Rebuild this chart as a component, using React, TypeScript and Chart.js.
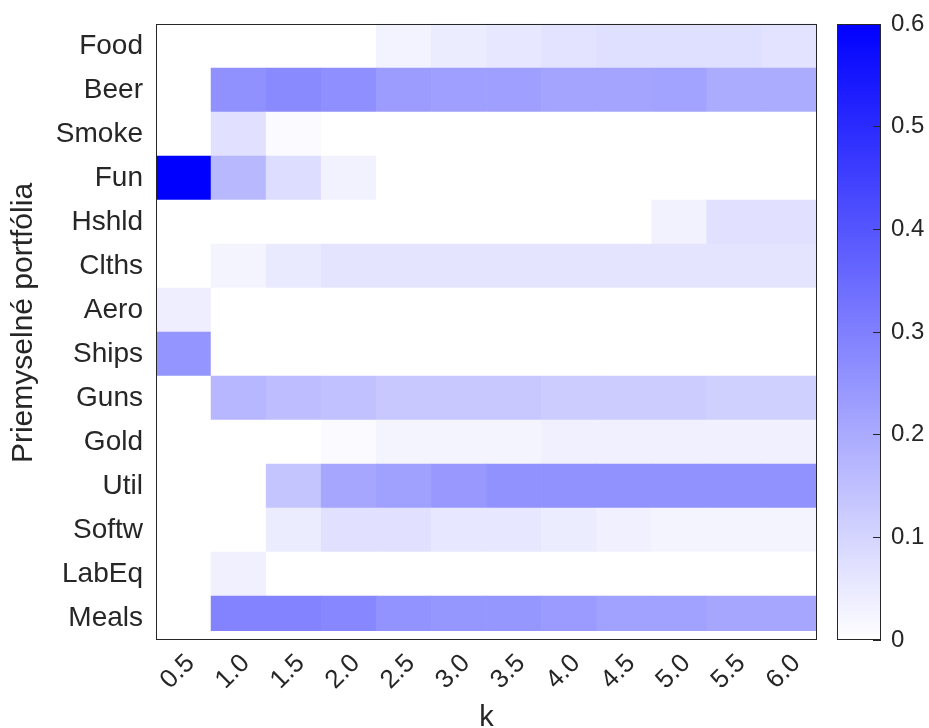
import React, { useEffect, useRef } from "react";
import { Chart, registerables } from "chart.js";

Chart.register(...registerables);

// Column categories (parameter k)
const kLabels = ["0.5", "1.0", "1.5", "2.0", "2.5", "3.0", "3.5", "4.0", "4.5", "5.0", "5.5", "6.0"];

// Row categories, top to bottom
const industries = [
  "Food", "Beer", "Smoke", "Fun", "Hshld", "Clths", "Aero",
  "Ships", "Guns", "Gold", "Util", "Softw", "LabEq", "Meals",
];

// Portfolio weights per industry, one value per k
const food = [0, 0, 0, 0, 0.028, 0.045, 0.056, 0.066, 0.075, 0.075, 0.075, 0.066];
const beer = [0, 0.261, 0.275, 0.264, 0.233, 0.226, 0.226, 0.214, 0.214, 0.219, 0.195, 0.195];
const smoke = [0, 0.07, 0.012, 0, 0, 0, 0, 0, 0, 0, 0, 0];
const fun = [0.6, 0.168, 0.08, 0.03, 0, 0, 0, 0, 0, 0, 0, 0];
const hshld = [0, 0, 0, 0, 0, 0, 0, 0, 0, 0.031, 0.071, 0.071];
const clths = [0, 0.025, 0.05, 0.063, 0.063, 0.063, 0.063, 0.063, 0.063, 0.063, 0.063, 0.063];
const aero = [0.04, 0, 0, 0, 0, 0, 0, 0, 0, 0, 0, 0];
const ships = [0.25, 0, 0, 0, 0, 0, 0, 0, 0, 0, 0, 0];
const guns = [0, 0.17, 0.155, 0.145, 0.13, 0.13, 0.13, 0.12, 0.12, 0.12, 0.11, 0.11];
const gold = [0, 0, 0, 0.01, 0.026, 0.026, 0.026, 0.035, 0.035, 0.035, 0.035, 0.035];
const util = [0, 0, 0.139, 0.209, 0.224, 0.242, 0.256, 0.256, 0.256, 0.256, 0.256, 0.256];
const softw = [0, 0, 0.045, 0.071, 0.071, 0.056, 0.056, 0.045, 0.035, 0.026, 0.026, 0.026];
const labeq = [0, 0.035, 0, 0, 0, 0, 0, 0, 0, 0, 0, 0];
const meals = [0, 0.292, 0.292, 0.282, 0.254, 0.247, 0.247, 0.235, 0.221, 0.221, 0.209, 0.209];

const weights = [food, beer, smoke, fun, hshld, clths, aero, ships, guns, gold, util, softw, labeq, meals];

// Colour scale range and colourbar ticks
const colorMin = 0;
const colorMax = 0.6;
const colorTicks = [0, 0.1, 0.2, 0.3, 0.4, 0.5, 0.6];

const TEXT = "#262626";
const FONT = "'Liberation Sans', Arial, Helvetica, sans-serif";

// White -> blue linear colormap
function cellColor(v: number): string {
  const t = Math.min(1, Math.max(0, (v - colorMin) / (colorMax - colorMin)));
  const c = Math.round(255 * (1 - t));
  return `rgb(${c},${c},255)`;
}

// Box outline around the plotting area
const framePlugin = {
  id: "frame",
  afterDatasetsDraw(chart: any) {
    const { ctx, chartArea: a } = chart;
    ctx.save();
    ctx.strokeStyle = TEXT;
    ctx.lineWidth = 1;
    ctx.strokeRect(Math.round(a.left) + 0.5, Math.round(a.top) + 0.5, Math.round(a.right - a.left) - 1, Math.round(a.bottom - a.top) - 1);
    ctx.restore();
  },
};

// Raise the rotated y-axis title a little above the plot's mid-height
const yTitleLift = {
  id: "yTitleLift",
  afterLayout(chart: any) {
    const y = chart.scales.y;
    if (y) {
      y.top -= 9;
      y.bottom -= 9;
    }
  },
};

// Keep tick labels from reserving extra room at the ends of an axis
function noEdgePadding(scale: any) {
  scale.paddingTop = 0;
  scale.paddingBottom = 0;
  scale.paddingLeft = 0;
  scale.paddingRight = 0;
}

export default function App() {
  const mainRef = useRef<HTMLCanvasElement>(null);
  const barRef = useRef<HTMLCanvasElement>(null);

  useEffect(() => {
    // Each industry is one stacked layer of unit-height cells; stack from the bottom row up.
    const datasets = industries
      .map((name, i) => ({
        label: name,
        data: kLabels.map(() => 1),
        backgroundColor: weights[i].map(cellColor),
        borderWidth: 0,
        categoryPercentage: 1,
        barPercentage: 1,
      }))
      .reverse();

    const main = new Chart(mainRef.current!, {
      type: "bar",
      data: { labels: kLabels, datasets },
      options: {
        responsive: false,
        animation: false,
        events: [],
        layout: { padding: { left: 0, top: 24, right: 112, bottom: 0 } },
        plugins: { legend: { display: false }, tooltip: { enabled: false } },
        scales: {
          x: {
            type: "category",
            stacked: true,
            grid: { display: false, drawTicks: false, tickLength: 0 },
            border: { display: false },
            ticks: {
              autoSkip: false,
              minRotation: 45,
              maxRotation: 45,
              padding: 10,
              labelOffset: 7,
              color: TEXT,
              font: { family: FONT, size: 26, lineHeight: 1 },
            },
            title: {
              display: true,
              text: "k",
              color: TEXT,
              padding: { top: 0, bottom: -4 },
              font: { family: FONT, size: 29, lineHeight: 1 },
            },
            afterFit(scale: any) {
              scale.height = 88;
              noEdgePadding(scale);
            },
          },
          y: {
            type: "linear",
            stacked: true,
            min: 0,
            max: industries.length,
            grid: { display: false, drawTicks: false, tickLength: 0 },
            border: { display: false },
            afterBuildTicks(scale: any) {
              scale.ticks = industries.map((_, i) => ({ value: i + 0.5 }));
            },
            ticks: {
              autoSkip: false,
              padding: 13,
              color: TEXT,
              font: { family: FONT, size: 28 },
              callback: (_v: any, index: number) => industries[industries.length - 1 - index],
            },
            title: {
              display: true,
              text: "Priemyselné portfólia",
              color: TEXT,
              padding: { top: 6, bottom: 0 },
              font: { family: FONT, size: 30 },
            },
            afterFit(scale: any) {
              scale.width = 156;
              noEdgePadding(scale);
            },
          },
        },
      },
      plugins: [framePlugin, yTitleLift],
    });

    const bar = new Chart(barRef.current!, {
      type: "bar",
      data: {
        labels: [""],
        datasets: [
          {
            data: [[colorMin, colorMax]],
            borderWidth: 0,
            categoryPercentage: 1,
            barPercentage: 1,
            backgroundColor: (ctx: any) => {
              const chart = ctx.chart;
              const ys = chart.scales.y;
              if (!chart.chartArea || !ys) return cellColor(colorMin);
              const g = chart.ctx.createLinearGradient(0, ys.getPixelForValue(colorMin), 0, ys.getPixelForValue(colorMax));
              g.addColorStop(0, cellColor(colorMin));
              g.addColorStop(1, cellColor(colorMax));
              return g;
            },
          },
        ],
      },
      options: {
        responsive: false,
        animation: false,
        events: [],
        layout: { padding: { left: 0, top: 24, right: 0, bottom: 88 } },
        plugins: { legend: { display: false }, tooltip: { enabled: false } },
        scales: {
          x: { display: false },
          y: {
            position: "right",
            min: colorMin,
            max: colorMax,
            afterBuildTicks(scale: any) {
              scale.ticks = colorTicks.map((v) => ({ value: v }));
            },
            // inward tick marks drawn on top of the gradient
            grid: { z: 1, drawOnChartArea: false, drawTicks: true, tickLength: -8, color: TEXT, lineWidth: 1 },
            border: { display: false },
            ticks: {
              autoSkip: false,
              padding: 18,
              color: TEXT,
              font: { family: FONT, size: 24 },
              callback: (v: any) => (Number(v) === 0 ? "0" : Number(v).toFixed(1)),
            },
            afterFit(scale: any) {
              scale.width = 48;
              noEdgePadding(scale);
            },
          },
        },
      },
      plugins: [framePlugin],
    });

    return () => {
      main.destroy();
      bar.destroy();
    };
  }, []);

  return (
    <div style={{ position: "absolute", left: 0, top: 0, width: 929, height: 728, background: "#ffffff" }}>
      <canvas ref={mainRef} width={929} height={728} style={{ position: "absolute", left: 0, top: 0 }} />
      <canvas ref={barRef} width={92} height={728} style={{ position: "absolute", left: 837, top: 0 }} />
    </div>
  );
}
